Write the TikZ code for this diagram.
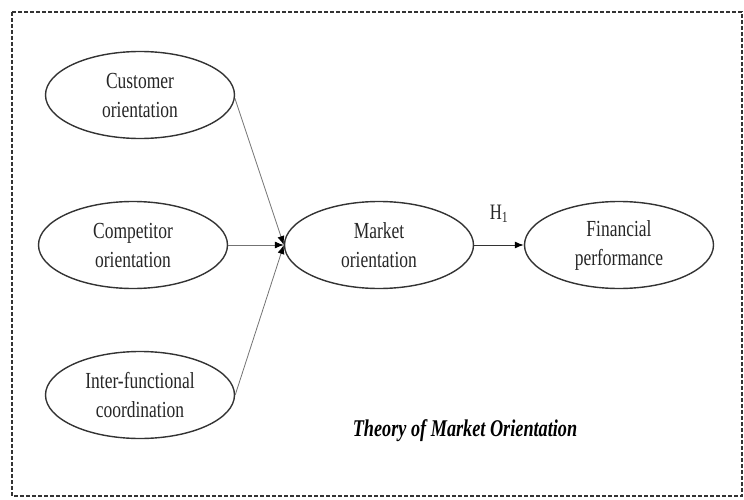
\documentclass[tikz,border=0pt]{standalone}
\usepackage{fontspec}
\setmainfont{Liberation Serif}
\newfontfamily\narrowfont[FakeStretch=0.76]{Liberation Serif}
\usetikzlibrary{shapes.geometric,arrows.meta}
\begin{document}
\begin{tikzpicture}[x=1pt,y=-1pt,
  concept/.style={ellipse,draw=black!80,line width=1.4pt,inner sep=0pt,
    minimum width=189pt,minimum height=87pt,align=center,
    font=\narrowfont\fontsize{23pt}{29pt}\selectfont,text=black!85},
  link/.style={draw=black!55,line width=0.8pt,-{Latex[length=9pt,width=7pt,black]}},
  mainlink/.style={draw=black!80,line width=1pt,-{Latex[length=9pt,width=7pt,black]}},
  frame/.style={draw=black!80,line width=1.4pt,dash pattern=on 4pt off 2pt}]
\useasboundingbox (0,0) rectangle (744,500);
\draw[frame] (12,12) rectangle (742,496);
\node[concept] (cust) at (140,95) {Customer\\orientation};
\node[concept] (comp) at (133,245) {Competitor\\orientation};
\node[concept] (inter) at (140,395) {Inter-functional\\coordination};
\node[concept] (mkt) at (379,245) {Market\\orientation};
\node[concept] (fin) at (619,245) {Financial\\performance};
\draw[link] (cust.-2) -- (mkt.west);
\draw[link] (comp.east) -- (mkt.west);
\draw[link] (inter.east) -- (mkt.west);
\draw[mainlink] (mkt.east) -- node[above=19pt,font=\narrowfont\fontsize{22pt}{26pt}\selectfont,text=black!85] (h1) {H\textsubscript{1}} (fin.west);
\node[font=\narrowfont\fontsize{24pt}{28pt}\selectfont\bfseries\itshape,anchor=base] (title) at (465,436) {Theory of Market Orientation};
\end{tikzpicture}
\end{document}
